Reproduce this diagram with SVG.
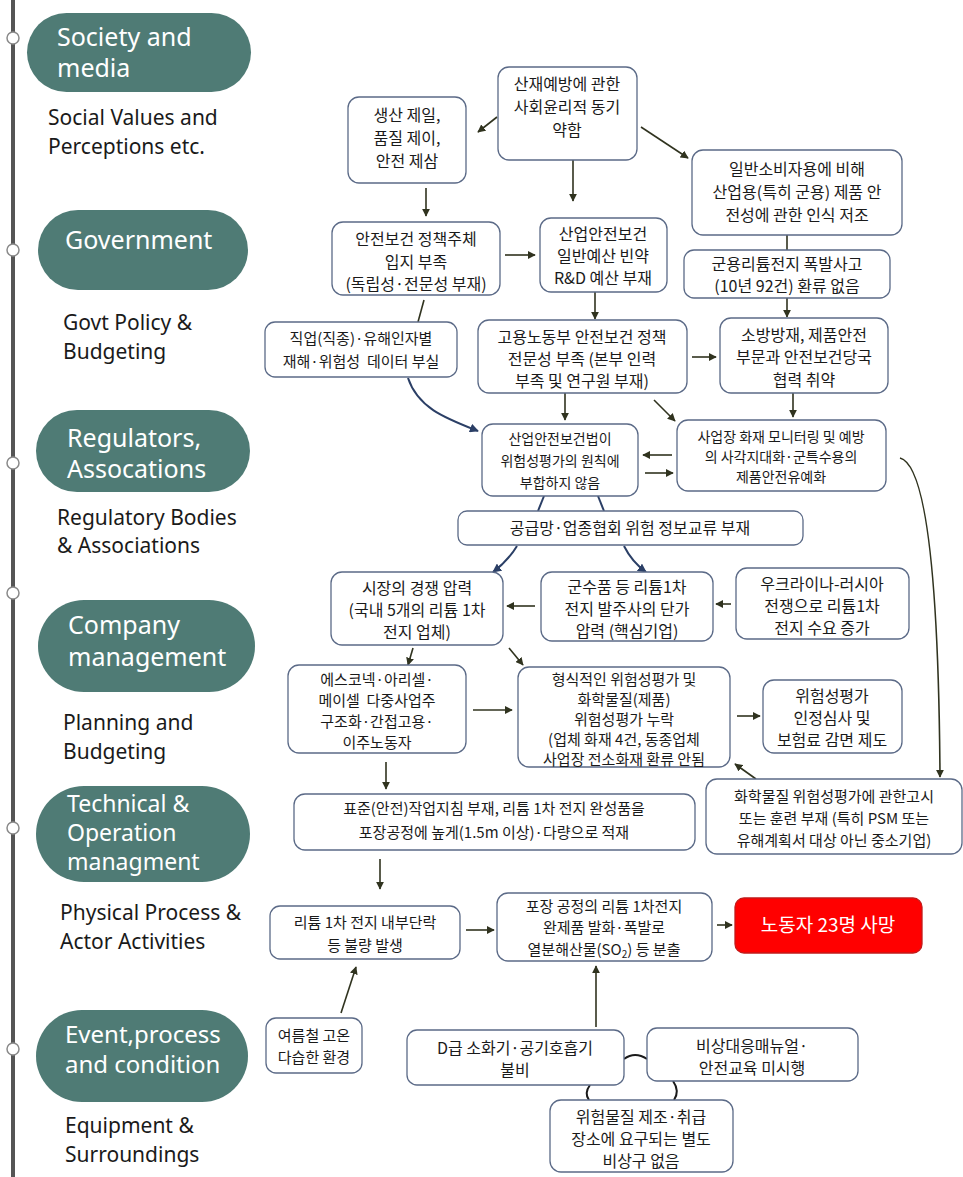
<svg xmlns="http://www.w3.org/2000/svg" width="963" height="1177" viewBox="0 0 963 1177">
<style>
.pill{fill:#4f7b75}
.pt{font-family:"Noto Sans",sans-serif;font-size:25px;fill:#ffffff}
.lb{font-family:"Noto Sans",sans-serif;font-size:21px;fill:#1a1a1a}
.dot{fill:#ffffff;stroke:#8a8a8a;stroke-width:1.5}
.n{fill:#ffffff;stroke:#5b6a87;stroke-width:1.3}
.t{font-family:"Noto Sans CJK KR",sans-serif;font-size:16px;fill:#1a1a1a;text-anchor:middle}
.s15{font-size:15px}
.s14{font-size:14px}
.c{fill:none;stroke:#30331f;stroke-width:1.6}
.cn{fill:none;stroke:#2b3f66;stroke-width:2}
.ca{marker-end:url(#ah)}
.cna{marker-end:url(#ahn)}
.arc{fill:none;stroke:#1a1a1a;stroke-width:2}
</style>
<defs>
<marker id="ah" viewBox="0 0 10 10" refX="9" refY="5" markerWidth="8" markerHeight="8" markerUnits="userSpaceOnUse" orient="auto"><path d="M0,0 L10,5 L0,10 z" fill="#30331f"/></marker>
<marker id="ahn" viewBox="0 0 10 10" refX="9" refY="5" markerWidth="9" markerHeight="9" markerUnits="userSpaceOnUse" orient="auto"><path d="M0,0 L10,5 L0,10 z" fill="#2b3f66"/></marker>
</defs>
<rect width="963" height="1177" fill="#ffffff"/>

<g id="timeline">
<line x1="13" y1="0" x2="13" y2="1177" stroke="#555555" stroke-width="4"/>
<circle class="dot" cx="13" cy="38" r="6"/>
<circle class="dot" cx="13" cy="250" r="6"/>
<circle class="dot" cx="13" cy="463" r="6"/>
<circle class="dot" cx="13" cy="593" r="6"/>
<circle class="dot" cx="13" cy="828" r="6"/>
<circle class="dot" cx="13" cy="1049" r="6"/>
</g>

<g id="level-society">
<rect class="pill" x="27" y="13" width="224" height="79" rx="39.5"/>
<text class="pt" x="57" y="46">Society and</text>
<text class="pt" x="57" y="77">media</text>
<text class="lb" x="48" y="125">Social Values and</text>
<text class="lb" x="48" y="154">Perceptions etc.</text>
</g>
<g id="level-government">
<rect class="pill" x="38" y="210" width="210" height="80" rx="40"/>
<text class="pt" x="65" y="249">Government</text>
<text class="lb" x="63" y="330">Govt Policy &amp;</text>
<text class="lb" x="63" y="359">Budgeting</text>
</g>
<g id="level-regulators">
<rect class="pill" x="36" y="410" width="214" height="82" rx="41"/>
<text class="pt" x="67" y="447">Regulators,</text>
<text class="pt" x="67" y="478">Assocations</text>
<text class="lb" x="57" y="525">Regulatory Bodies</text>
<text class="lb" x="57" y="553">&amp; Associations</text>
</g>
<g id="level-company">
<rect class="pill" x="38" y="600" width="217" height="92" rx="46"/>
<text class="pt" x="68" y="634">Company</text>
<text class="pt" x="68" y="666">management</text>
<text class="lb" x="63" y="730">Planning and</text>
<text class="lb" x="63" y="759">Budgeting</text>
</g>
<g id="level-technical">
<rect class="pill" x="36" y="786" width="214" height="96" rx="48"/>
<text class="pt" style="font-size:23px" x="67" y="812">Technical &amp;</text>
<text class="pt" style="font-size:23px" x="67" y="841">Operation</text>
<text class="pt" style="font-size:23px" x="67" y="870">managment</text>
<text class="lb" x="60" y="920">Physical Process &amp;</text>
<text class="lb" x="60" y="949">Actor Activities</text>
</g>
<g id="level-event">
<rect class="pill" x="36" y="1010" width="212" height="92" rx="46"/>
<text class="pt" style="font-size:24px" x="65" y="1043">Event,process</text>
<text class="pt" style="font-size:24px" x="65" y="1073">and condition</text>
<text class="lb" x="65" y="1133">Equipment &amp;</text>
<text class="lb" x="65" y="1162">Surroundings</text>
</g>

<g id="connectors">
<path class="c ca" d="M497,117 L478,132"/>
<path class="c ca" d="M573,160 L573,201"/>
<path class="c ca" d="M641,127 L688,158"/>
<path class="c ca" d="M426,188 L426,216"/>
<path class="c ca" d="M505,255 L535,255"/>
<path class="c" d="M787,235 L787,250"/>
<path class="c" d="M424,300 L418,322"/>
<path class="c ca" d="M595,292 L595,319"/>
<path class="c ca" d="M787,298 L787,317"/>
<path class="c ca" d="M692,357 L716,357"/>
<path class="cn cna" d="M408,378 C418,408 445,418 478,431"/>
<path class="c ca" d="M565,393 L565,420"/>
<path class="c ca" d="M654,400 L675,421"/>
<path class="c ca" d="M793,393 L793,417"/>
<path class="c ca" d="M672,455 L643,455"/>
<path class="c ca" d="M645,473 L673,473"/>
<path class="c ca" d="M900,458 Q938,468 940,777"/>
<path class="cn" d="M544,496 L538,511"/>
<path class="cn" d="M598,496 L604,511"/>
<path class="cn cna" d="M517,546 Q508,561 493,572"/>
<path class="cn cna" d="M624,546 Q632,562 646,572"/>
<path class="c ca" d="M535,606 L507,606"/>
<path class="c ca" d="M731,604 L716,604"/>
<path class="c ca" d="M413,648 L408,665"/>
<path class="c ca" d="M509,648 L523,665"/>
<path class="c ca" d="M473,710 L512,710"/>
<path class="c ca" d="M737,716 L760,716"/>
<path class="c ca" d="M756,779 L735,764"/>
<path class="c ca" d="M386,762 L386,789"/>
<path class="c ca" d="M380,859 L380,889"/>
<path class="c ca" d="M466,930 L494,930"/>
<path class="c ca" d="M717,925 L732,925"/>
<path class="c ca" d="M341,1013 L356,967"/>
<path class="c ca" d="M596,1027 L596,966"/>
<path class="arc" d="M624,1059 Q635,1051 647,1059"/>
<path class="arc" d="M590,1085 Q584,1093 589,1100"/>
<path class="arc" d="M673,1081 Q680,1091 674,1100"/>
</g>

<g id="n-ethics"><rect class="n" x="498" y="67" width="139" height="93" rx="11"/>
<text class="t"><tspan x="567" y="90">산재예방에 관한</tspan><tspan x="567" y="113">사회윤리적 동기</tspan><tspan x="567" y="136">약함</tspan></text></g>
<g id="n-production"><rect class="n" x="348" y="97" width="118" height="86" rx="11"/>
<text class="t"><tspan x="407" y="121">생산 제일,</tspan><tspan x="407" y="144">품질 제이,</tspan><tspan x="407" y="167">안전 제삼</tspan></text></g>
<g id="n-consumer"><rect class="n" x="692" y="150" width="210" height="85" rx="11"/>
<text class="t"><tspan x="797" y="175">일반소비자용에 비해</tspan><tspan x="797" y="198">산업용(특히 군용) 제품 안</tspan><tspan x="797" y="221">전성에 관한 인식 저조</tspan></text></g>
<g id="n-policy"><rect class="n" x="332" y="222" width="168" height="73" rx="11"/>
<text class="t"><tspan x="416" y="245">안전보건 정책주체</tspan><tspan x="416" y="268">입지 부족</tspan><tspan x="416" y="290">(독립성·전문성 부재)</tspan></text></g>
<g id="n-budget"><rect class="n" x="540" y="218" width="127" height="74" rx="11"/>
<text class="t"><tspan x="603" y="240">산업안전보건</tspan><tspan x="603" y="262">일반예산 빈약</tspan><tspan x="603" y="284">R&amp;D 예산 부재</tspan></text></g>
<g id="n-military"><rect class="n" x="684" y="250" width="206" height="48" rx="10"/>
<text class="t"><tspan x="787" y="270">군용리튬전지 폭발사고</tspan><tspan x="787" y="292">(10년 92건) 환류 없음</tspan></text></g>
<g id="n-data"><rect class="n" x="265" y="322" width="192" height="55" rx="10"/>
<text class="t s15"><tspan x="361" y="344">직업(직종)·유해인자별</tspan><tspan x="361" y="367">재해·위험성&#160; 데이터 부실</tspan></text></g>
<g id="n-moel"><rect class="n" x="478" y="320" width="209" height="73" rx="11"/>
<text class="t"><tspan x="582" y="343">고용노동부 안전보건 정책</tspan><tspan x="582" y="365">전문성 부족 (본부 인력</tspan><tspan x="582" y="387">부족 및 연구원 부재)</tspan></text></g>
<g id="n-fire"><rect class="n" x="720" y="318" width="168" height="75" rx="11"/>
<text class="t"><tspan x="804" y="341">소방방재, 제품안전</tspan><tspan x="804" y="363">부문과 안전보건당국</tspan><tspan x="804" y="386">협력 취약</tspan></text></g>
<g id="n-law"><rect class="n" x="482" y="424" width="156" height="72" rx="11"/>
<text class="t s14"><tspan x="560" y="444">산업안전보건법이</tspan><tspan x="560" y="466">위험성평가의 원칙에</tspan><tspan x="560" y="488">부합하지 않음</tspan></text></g>
<g id="n-blindspot"><rect class="n" x="677" y="420" width="209" height="71" rx="11"/>
<text class="t s14"><tspan x="781" y="442">사업장 화재 모니터링 및 예방</tspan><tspan x="781" y="462">의 사각지대화·군특수용의</tspan><tspan x="781" y="482">제품안전유예화</tspan></text></g>
<g id="n-supply"><rect class="n" x="458" y="511" width="345" height="34" rx="9"/>
<text class="t"><tspan x="630" y="534">공급망·업종협회 위험 정보교류 부재</tspan></text></g>
<g id="n-market"><rect class="n" x="331" y="572" width="172" height="73" rx="11"/>
<text class="t"><tspan x="417" y="594">시장의 경쟁 압력</tspan><tspan x="417" y="616">(국내 5개의 리튬 1차</tspan><tspan x="417" y="638">전지 업체)</tspan></text></g>
<g id="n-price"><rect class="n" x="541" y="572" width="172" height="69" rx="11"/>
<text class="t"><tspan x="627" y="593">군수품 등 리튬1차</tspan><tspan x="627" y="615">전지 발주사의 단가</tspan><tspan x="627" y="637">압력 (핵심기업)</tspan></text></g>
<g id="n-war"><rect class="n" x="736" y="568" width="173" height="71" rx="11"/>
<text class="t"><tspan x="822" y="590">우크라이나-러시아</tspan><tspan x="822" y="612">전쟁으로 리튬1차</tspan><tspan x="822" y="634">전지 수요 증가</tspan></text></g>
<g id="n-subcontract"><rect class="n" x="288" y="665" width="178" height="88" rx="11"/>
<text class="t s15"><tspan x="377" y="685">에스코넥·아리셀·</tspan><tspan x="377" y="706">메이셀&#160; 다중사업주</tspan><tspan x="377" y="727">구조화·간접고용·</tspan><tspan x="377" y="748">이주노동자</tspan></text></g>
<g id="n-formal"><rect class="n" x="518" y="667" width="212" height="100" rx="11"/>
<text class="t s15"><tspan x="624" y="685">형식적인 위험성평가 및</tspan><tspan x="624" y="705">화학물질(제품)</tspan><tspan x="624" y="725">위험성평가 누락</tspan><tspan x="624" y="745">(업체 화재 4건, 동종업체</tspan><tspan x="624" y="765">사업장 전소화재 환류 안됨</tspan></text></g>
<g id="n-cert"><rect class="n" x="763" y="680" width="139" height="73" rx="11"/>
<text class="t"><tspan x="832" y="702">위험성평가</tspan><tspan x="832" y="724">인정심사 및</tspan><tspan x="832" y="746">보험료 감면 제도</tspan></text></g>
<g id="n-standard"><rect class="n" x="294" y="794" width="401" height="56" rx="11"/>
<text class="t s15"><tspan x="494" y="814">표준(안전)작업지침 부재, 리튬 1차 전지 완성품을</tspan><tspan x="494" y="838">포장공정에 높게(1.5m 이상)·다량으로 적재</tspan></text></g>
<g id="n-chem"><rect class="n" x="706" y="779" width="256" height="75" rx="11"/>
<text class="t s15"><tspan x="834" y="802">화학물질 위험성평가에 관한고시</tspan><tspan x="834" y="824">또는 훈련 부재 (특히 PSM 또는</tspan><tspan x="834" y="846">유해계획서 대상 아닌 중소기업)</tspan></text></g>
<g id="n-defect"><rect class="n" x="270" y="906" width="190" height="53" rx="10"/>
<text class="t s15"><tspan x="365" y="928">리튬 1차 전지 내부단락</tspan><tspan x="365" y="951">등 불량 발생</tspan></text></g>
<g id="n-explode"><rect class="n" x="497" y="893" width="215" height="68" rx="11"/>
<text class="t s15"><tspan x="604" y="912">포장 공정의 리튬 1차전지</tspan><tspan x="604" y="933">완제품 발화·폭발로</tspan><tspan x="604" y="955">열분해산물(SO<tspan font-size="10" dy="3">2</tspan><tspan dy="-3">) 등 분출</tspan></tspan></text></g>
<g id="n-death"><rect x="735" y="898" width="187" height="55" rx="9" fill="#ff0000" stroke="#c21a1a" stroke-width="1.3"/>
<text class="t" style="font-size:19px;fill:#ffffff" x="828" y="932">노동자 23명 사망</text></g>
<g id="n-summer"><rect class="n" x="266" y="1018" width="96" height="55" rx="10"/>
<text class="t s15"><tspan x="314" y="1041">여름철 고온</tspan><tspan x="314" y="1063">다습한 환경</tspan></text></g>
<g id="n-extinguisher"><rect class="n" x="407" y="1030" width="217" height="55" rx="10"/>
<text class="t"><tspan x="515" y="1054">D급 소화기·공기호흡기</tspan><tspan x="515" y="1076">불비</tspan></text></g>
<g id="n-manual"><rect class="n" x="647" y="1028" width="211" height="53" rx="10"/>
<text class="t"><tspan x="752" y="1052">비상대응매뉴얼·</tspan><tspan x="752" y="1074">안전교육 미시행</tspan></text></g>
<g id="n-exit"><rect class="n" x="550" y="1100" width="183" height="72" rx="11"/>
<text class="t"><tspan x="641" y="1123">위험물질 제조·취급</tspan><tspan x="641" y="1145">장소에 요구되는 별도</tspan><tspan x="641" y="1167">비상구 없음</tspan></text></g>
</svg>
